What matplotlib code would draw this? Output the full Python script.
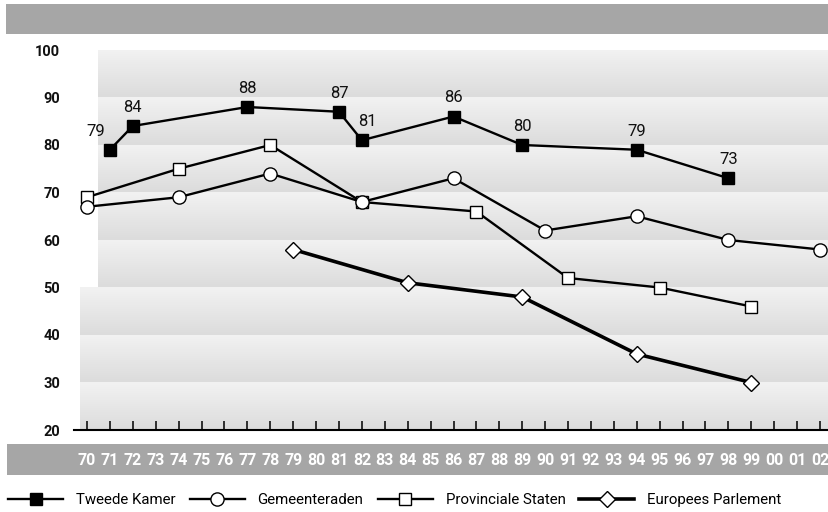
import numpy as np
import matplotlib
matplotlib.use("Agg")
import matplotlib.pyplot as plt
from matplotlib.patches import Rectangle
from matplotlib.lines import Line2D
from matplotlib.colors import LinearSegmentedColormap

plt.rcParams['font.family'] = ['Roboto', 'DejaVu Sans']

# ---------------- data ----------------
tk_years = [71, 72, 77, 81, 82, 86, 89, 94, 98]
tk_vals = [79, 84, 88, 87, 81, 86, 80, 79, 73]

gem_years = [70, 74, 78, 82, 86, 90, 94, 98, 102]
gem_vals = [67, 69, 74, 68, 73, 62, 65, 60, 58]

ps_years = [70, 74, 78, 82, 87, 91, 95, 99]
ps_vals = [69, 75, 80, 68, 66, 52, 50, 46]

ep_years = [79, 84, 89, 94, 99]
ep_vals = [58, 51, 48, 36, 30]

x_years = list(range(70, 103))
x_labels = ['%02d' % (y % 100) for y in x_years]
y_ticks = [20, 30, 40, 50, 60, 70, 80, 90, 100]

series_names = ['Tweede Kamer', 'Gemeenteraden', 'Provinciale Staten', 'Europees Parlement']

# ---------------- figure ----------------
W, H = 829, 512
fig = plt.figure(figsize=(W / 100, H / 100), dpi=100)

def fx(px):
    return px / W

def fy(py):
    return 1 - py / H

# gray banners (behind axes)
fig.patches.append(Rectangle((fx(6), fy(34)), fx(823), 30 / H, transform=fig.transFigure,
                             facecolor='#a6a6a6', edgecolor='none', zorder=-5))
fig.patches.append(Rectangle((fx(7), fy(475)), fx(822), 31 / H, transform=fig.transFigure,
                             facecolor='#a6a6a6', edgecolor='none', zorder=-5))

ax_left, ax_right, ax_top, ax_bot = 74, 829, 50, 430
ax = fig.add_axes([fx(ax_left), fy(ax_bot), fx(ax_right - ax_left), (ax_bot - ax_top) / H])
ax.set_facecolor('none')
ax.set_zorder(1)

pxy = (820 - 87) / 32.0
x0 = 70 - (87 - ax_left) / pxy
x1 = 70 + (ax_right - 87) / pxy

# background bands with vertical gradient (darker top, lighter bottom)
grad = np.linspace(0, 1, 64).reshape(-1, 1)
cmap = LinearSegmentedColormap.from_list('band', ['#dcdcdc', '#f2f2f2'])
for v in range(20, 100, 10):
    xs = 70 + (98 - 87) / pxy if v >= 50 else 70 + (80 - 87) / pxy
    ax.imshow(grad, extent=[xs, x1, v + 10, v], cmap=cmap, aspect='auto',
              origin='upper', zorder=0, interpolation='bilinear')
ax.set_xlim(x0, x1)
ax.set_ylim(20, 100)

# series
ax.plot(ep_years, ep_vals, color='black', lw=2.6, marker='D', ms=7.8,
        mfc='white', mec='black', mew=1.0, zorder=3, clip_on=False)
ax.plot(ps_years, ps_vals, color='black', lw=1.7, marker='s', ms=8.5,
        mfc='white', mec='black', mew=1.0, zorder=4, clip_on=False)
ax.plot(gem_years, gem_vals, color='black', lw=1.7, marker='o', ms=9.5,
        mfc='white', mec='black', mew=1.0, zorder=5, clip_on=False)
ax.plot(tk_years, tk_vals, color='black', lw=1.7, marker='s', ms=8.5,
        mfc='black', mec='black', mew=1.0, zorder=6, clip_on=False)

# value labels for Tweede Kamer
label_dx = {71: -10, 82: 4}
for yr, v in zip(tk_years, tk_vals):
    ax.annotate(str(v), (yr, v), xytext=(label_dx.get(yr, 0), 13.5),
                textcoords='offset points', ha='center', va='center',
                fontsize=12, color='#111111', zorder=7)

# axes styling
for s in ['top', 'right', 'left']:
    ax.spines[s].set_visible(False)
ax.spines['bottom'].set_linewidth(1.5)
ax.spines['bottom'].set_zorder(8)

ax.set_xticks(x_years)
ax.set_xticklabels(x_labels)
ax.tick_params(axis='x', direction='in', length=6.5, width=1.1, pad=16.5,
               labelsize=11.5, labelcolor='white')
for t in ax.get_xticklabels():
    t.set_fontweight('bold')

ax.set_yticks(y_ticks)
ax.set_yticklabels([str(v) for v in y_ticks])
ax.tick_params(axis='y', length=0, pad=10, labelsize=10.5, labelcolor='#111111')
for t in ax.get_yticklabels():
    t.set_fontweight('bold')

# legend
handles = [
    Line2D([], [], color='black', lw=1.7, marker='s', ms=8.5, mfc='black', mec='black'),
    Line2D([], [], color='black', lw=1.7, marker='o', ms=9.5, mfc='white', mec='black'),
    Line2D([], [], color='black', lw=1.7, marker='s', ms=8.5, mfc='white', mec='black'),
    Line2D([], [], color='black', lw=2.6, marker='D', ms=7.8, mfc='white', mec='black'),
]
fs = 10.8
fspx = fs * 100 / 72
fig.legend(handles, series_names, loc='center left', ncol=4, frameon=False,
           bbox_to_anchor=(fx(8), fy(500)), fontsize=fs,
           handlelength=55 / fspx, handletextpad=13 / fspx, columnspacing=14 / fspx,
           borderpad=0, borderaxespad=0)

fig.savefig('out.png', dpi=100)
